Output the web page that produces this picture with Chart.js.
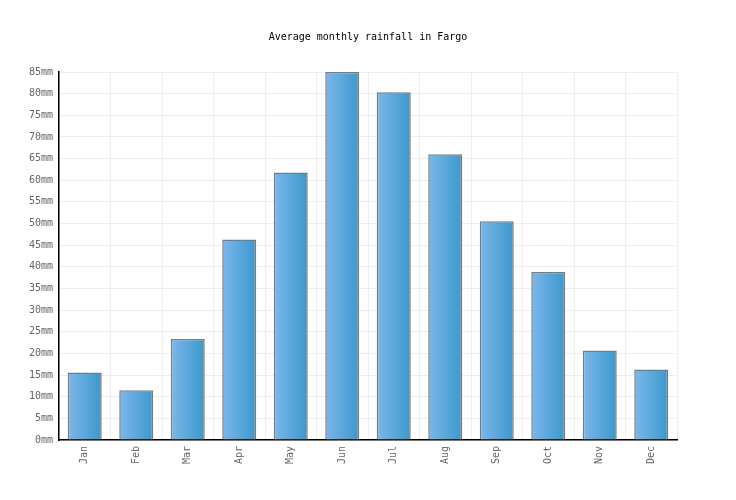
<!DOCTYPE html>
<html>
<head>
<meta charset="utf-8">
<script src="https://cdn.jsdelivr.net/npm/chart.js@4"></script>
<style>
  html, body { margin: 0; padding: 0; background: #fff; }
  #wrap { width: 736px; height: 500px; }
</style>
</head>
<body>
<div id="wrap"><canvas id="rainChart" width="736" height="500"></canvas></div>
<script>
const months = ['Jan','Feb','Mar','Apr','May','Jun','Jul','Aug','Sep','Oct','Nov','Dec'];
const rainfall = [15.6, 11.5, 23.3, 46.3, 61.8, 85, 80.3, 66.0, 50.5, 38.8, 20.7, 16.3];
const yMax = 85;
const yStep = 5;

const monoFont = { family: '"DejaVu Sans Mono", "Liberation Mono", monospace', size: 10 };

function barGradient(ctx) {
  const chart = ctx.chart;
  const x = chart.scales.x;
  if (!chart.chartArea || !x || ctx.dataIndex === undefined) return '#5aa8dd';
  const cx = x.getPixelForValue(ctx.dataIndex);
  const half = x.width / months.length * 0.66 / 2;
  if (!isFinite(cx) || !isFinite(half)) return '#5aa8dd';
  const g = chart.ctx.createLinearGradient(cx - half, 0, cx + half, 0);
  g.addColorStop(0, '#7db7ea');
  g.addColorStop(1, '#3b98cd');
  return g;
}

new Chart(document.getElementById('rainChart'), {
  type: 'bar',
  data: {
    labels: months,
    datasets: [{
      data: rainfall,
      backgroundColor: barGradient,
      borderColor: '#7a7a7a',
      borderWidth: 1.5,
      borderSkipped: 'bottom',
      barPercentage: 0.66,
      categoryPercentage: 1
    }]
  },
  options: {
    responsive: false,
    animation: false,
    layout: { padding: 0 },
    plugins: {
      legend: { display: false },
      tooltip: { enabled: false },
      title: {
        display: true,
        text: 'Average monthly rainfall in Fargo',
        color: '#000',
        font: { ...monoFont, weight: 'normal' },
        padding: { top: 31, bottom: 29 }
      }
    },
    scales: {
      x: {
        offset: true,
        grid: { color: '#eeeeee', offset: true, drawTicks: false },
        border: { color: '#000', width: 1.5 },
        ticks: { color: '#666', font: monoFont, minRotation: 90, maxRotation: 90, padding: 6 },
        afterFit: s => { s.height = 60; }
      },
      y: {
        min: 0,
        max: yMax,
        grid: { color: '#eeeeee', drawTicks: false },
        border: { color: '#000', width: 1.5 },
        ticks: { stepSize: yStep, color: '#666', font: monoFont, padding: 6, callback: v => v + 'mm' },
        afterFit: s => { s.width = 59; }
      },
      spacer: {
        position: 'right',
        min: 0,
        max: yMax,
        grid: { display: false, drawOnChartArea: false },
        border: { display: false },
        ticks: { display: false },
        afterFit: s => { s.width = 59; }
      }
    }
  }
});
</script>
</body>
</html>
